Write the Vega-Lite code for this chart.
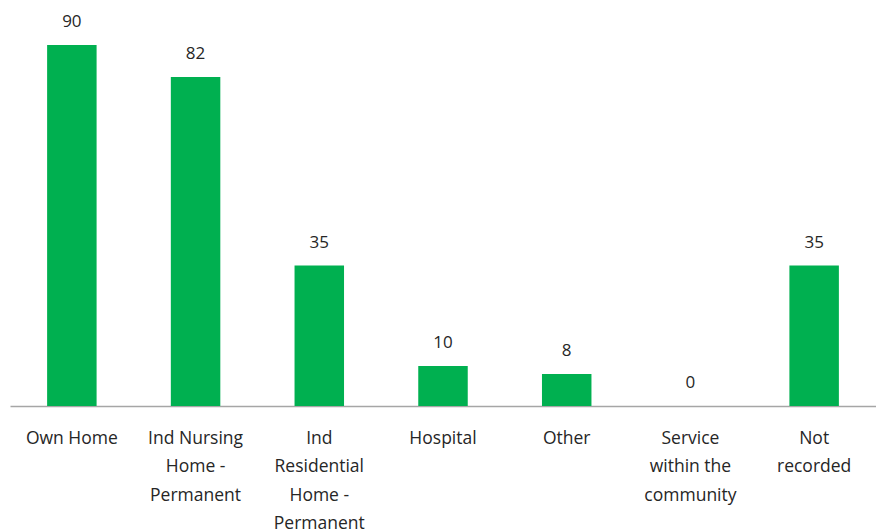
{
  "$schema": "https://vega.github.io/schema/vega-lite/v6.json",
  "width": 866,
  "height": 406,
  "autosize": {"type": "none"},
  "padding": {"left": 10, "top": 0, "right": 0, "bottom": 126},
  "background": "white",
  "config": {"view": {"stroke": null}, "font": "Open Sans"},
  "data": {
    "values": [
      {"category": "Own Home", "count": 90},
      {"category": "Ind Nursing|Home -|Permanent", "count": 82},
      {"category": "Ind|Residential|Home -|Permanent", "count": 35},
      {"category": "Hospital", "count": 10},
      {"category": "Other", "count": 8},
      {"category": "Service|within the|community", "count": 0},
      {"category": "Not|recorded", "count": 35}
    ]
  },
  "encoding": {
    "x": {
      "field": "category",
      "type": "nominal",
      "sort": null,
      "scale": {"paddingInner": 0.6, "paddingOuter": 0.3},
      "axis": {
        "title": null,
        "labelAngle": 0,
        "ticks": false,
        "labelExpr": "split(datum.value, '|')",
        "labelFont": "Open Sans",
        "labelFontSize": 17.5,
        "labelColor": "#262626",
        "labelBaseline": "top",
        "labelPadding": 23,
        "labelLineHeight": 28.5,
        "labelLimit": 0,
        "domainColor": "#A6A6A6",
        "domainWidth": 1.5
      }
    },
    "y": {
      "field": "count",
      "type": "quantitative",
      "scale": {"domain": [0, 101.2], "nice": false},
      "axis": null
    }
  },
  "layer": [
    {"mark": {"type": "bar", "color": "#00B050"}},
    {
      "mark": {"type": "text", "baseline": "bottom", "dy": -14, "fontSize": 17, "font": "Open Sans", "color": "#262626"},
      "encoding": {"text": {"field": "count", "type": "quantitative"}}
    }
  ]
}
